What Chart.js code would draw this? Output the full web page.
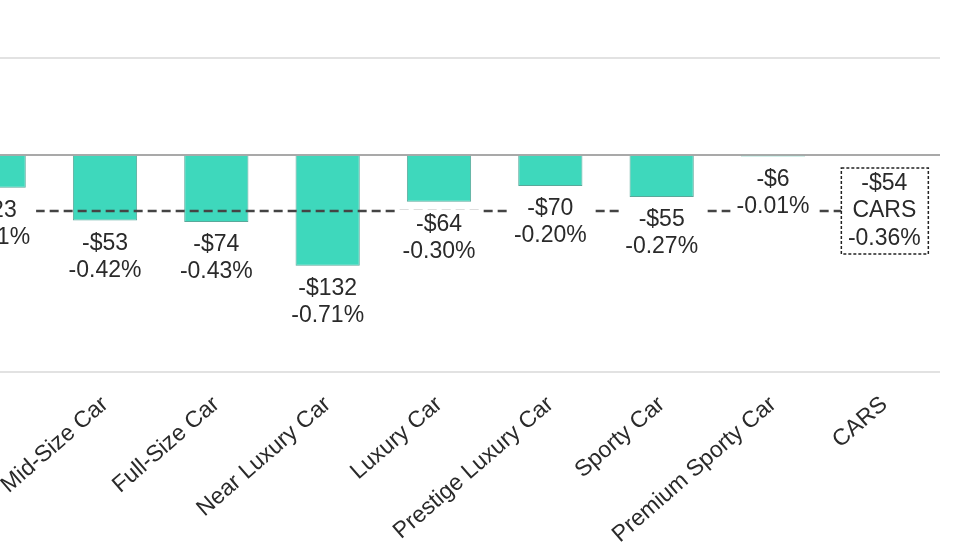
<!DOCTYPE html>
<html>
<head>
<meta charset="utf-8">
<script src="https://cdn.jsdelivr.net/npm/chart.js@4"></script>
<style>
  html, body { margin: 0; padding: 0; background: #fff; overflow: hidden; }
  body { width: 980px; height: 552px; position: relative; }
  #wrap { position: absolute; left: -62px; top: 0; width: 1002px; height: 552px; }
</style>
</head>
<body>
<div id="wrap"><canvas id="chart" width="1002" height="552"></canvas></div>
<script>
// categorie e valori (il primo è tagliato nel riferimento)
const categories = ['Compact Car', 'Mid-Size Car', 'Full-Size Car', 'Near Luxury Car', 'Luxury Car',
    'Prestige Luxury Car', 'Sporty Car', 'Premium Sporty Car', 'CARS'];
const pctChange = [-0.21, -0.42, -0.43, -0.71, -0.30, -0.20, -0.27, -0.01, null];
const dollarChange = [-23, -53, -74, -132, -64, -70, -55, -6, -54];
const carsAvg = -0.36;
const yGridValues = [-1.39, 0, 0.62];

const FONT = '"Liberation Sans", Arial, sans-serif';

function fmtDollar(v) { return (v < 0 ? '-' : '') + '$' + Math.abs(v); }
function fmtPct(v) { return v.toFixed(2) + '%'; }

// etichette sotto le barre + riquadro CARS
const labelPlugin = {
    id: 'barLabels',
    afterDatasetsDraw(chart) {
        const ctx = chart.ctx;
        const bars = chart.getDatasetMeta(0).data;
        const line = chart.getDatasetMeta(1).data;
        ctx.save();
        ctx.font = '23px ' + FONT;
        ctx.textAlign = 'center';
        ctx.textBaseline = 'middle';
        categories.forEach((c, i) => {
            const t1 = fmtDollar(dollarChange[i]);
            if (pctChange[i] !== null) {
                const t2 = fmtPct(pctChange[i]);
                const x = bars[i].x, bottom = bars[i].y;
                const w = Math.max(ctx.measureText(t1).width, ctx.measureText(t2).width) + 12;
                ctx.fillStyle = '#fff';
                ctx.fillRect(x - w / 2, bottom + 8, w, 58);
                ctx.fillStyle = '#2a2a2a';
                ctx.fillText(t1, x, bottom + 23);
                ctx.fillText(t2, x, bottom + 50);
            } else {
                const x = line[i].x, y = line[i].y;
                const t2 = c, t3 = fmtPct(carsAvg);
                ctx.fillStyle = '#fff';
                ctx.fillRect(x - 43, y - 43, 87, 86);
                ctx.setLineDash([3, 2]);
                ctx.lineWidth = 1.5;
                ctx.strokeStyle = '#222';
                ctx.strokeRect(x - 43, y - 43, 87, 86);
                ctx.setLineDash([]);
                ctx.fillStyle = '#2a2a2a';
                ctx.fillText(t1, x, y - 27);
                ctx.fillText(t2, x, y);
                ctx.fillText(t3, x, y + 28);
            }
        });
        ctx.restore();
    }
};

new Chart(document.getElementById('chart'), {
    type: 'bar',
    data: {
        labels: categories,
        datasets: [{
            data: pctChange,
            backgroundColor: '#3ed8bc',
            borderColor: '#5aa89a',
            borderWidth: 1,
            categoryPercentage: 1,
            barPercentage: 0.577,
            order: 2
        }, {
            type: 'line',
            data: categories.map(() => carsAvg),
            borderColor: '#444',
            borderWidth: 2.5,
            borderDash: [9, 5],
            pointRadius: 0,
            fill: false,
            order: 1
        }]
    },
    options: {
        responsive: false,
        animation: false,
        layout: { padding: { top: 58, left: 0, right: 0, bottom: 0 } },
        plugins: { legend: { display: false }, tooltip: { enabled: false } },
        scales: {
            x: {
                grid: { display: false },
                border: { display: false },
                ticks: {
                    autoSkip: false,
                    minRotation: 41,
                    maxRotation: 41,
                    padding: 11,
                    color: '#2a2a2a',
                    font: { family: FONT, size: 23 }
                },
                afterFit(scale) {
                    scale.height = 180;
                    scale.paddingLeft = 0;
                    scale.paddingRight = 0;
                }
            },
            y: {
                min: yGridValues[0],
                max: yGridValues[yGridValues.length - 1],
                ticks: { display: false },
                border: { display: false },
                grid: {
                    drawTicks: false,
                    color: c => c.tick.value === 0 ? '#a9a9a9' : '#e2e2e2',
                    lineWidth: 2
                },
                afterBuildTicks(scale) {
                    scale.ticks = yGridValues.map(v => ({ value: v }));
                },
                afterFit(scale) {
                    scale.width = 0;
                }
            }
        }
    },
    plugins: [labelPlugin]
});
</script>
</body>
</html>
